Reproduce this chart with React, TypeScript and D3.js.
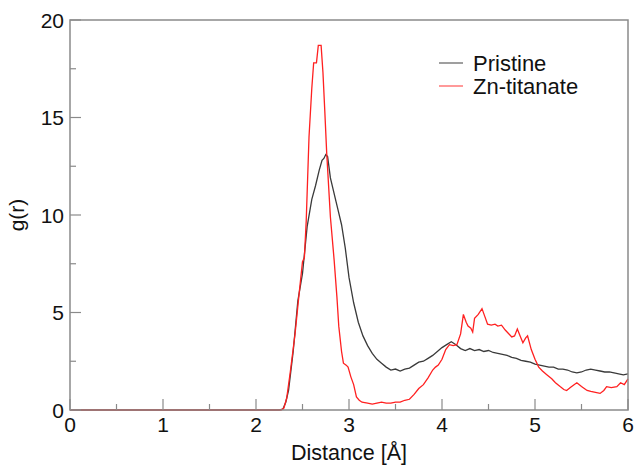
import React from "react";
import * as d3 from "d3";

const pristineR = [0, 2.25, 2.29, 2.32, 2.35, 2.4, 2.45, 2.5, 2.55, 2.6, 2.64, 2.68, 2.71, 2.73, 2.75, 2.77, 2.8, 2.83, 2.86, 2.88, 2.92, 2.96, 3.0, 3.05, 3.1, 3.15, 3.2, 3.25, 3.3, 3.35, 3.4, 3.45, 3.5, 3.55, 3.6, 3.65, 3.7, 3.75, 3.8, 3.85, 3.9, 3.95, 4.0, 4.05, 4.1, 4.15, 4.2, 4.25, 4.3, 4.35, 4.4, 4.45, 4.5, 4.55, 4.6, 4.65, 4.7, 4.75, 4.8, 4.85, 4.9, 4.95, 5.0, 5.05, 5.1, 5.15, 5.2, 5.25, 5.3, 5.35, 5.4, 5.45, 5.5, 5.55, 5.6, 5.65, 5.7, 5.75, 5.8, 5.85, 5.9, 5.95, 6.0];
const pristineG = [0, 0, 0.05, 0.4, 1.0, 3.0, 5.6, 7.0, 9.4, 10.8, 11.5, 12.3, 12.8, 12.9, 13.1, 13.0, 11.9, 11.3, 10.7, 10.3, 9.5, 8.3, 6.8, 5.5, 4.5, 3.8, 3.3, 2.9, 2.6, 2.4, 2.2, 2.05, 2.1, 2.0, 2.1, 2.15, 2.3, 2.45, 2.5, 2.65, 2.8, 3.0, 3.2, 3.35, 3.5, 3.35, 3.15, 3.05, 3.15, 3.05, 3.1, 3.0, 3.05, 2.95, 2.9, 2.85, 2.8, 2.7, 2.65, 2.55, 2.5, 2.45, 2.35, 2.3, 2.25, 2.2, 2.2, 2.1, 2.1, 2.05, 1.95, 1.9, 1.95, 2.05, 2.1, 2.05, 2.0, 1.95, 1.95, 1.9, 1.85, 1.8, 1.85];

const znR = [0, 2.27, 2.3, 2.33, 2.37, 2.42, 2.46, 2.5, 2.52, 2.54, 2.57, 2.6, 2.62, 2.65, 2.67, 2.7, 2.72, 2.74, 2.76, 2.8, 2.84, 2.87, 2.89, 2.92, 2.94, 2.97, 2.99, 3.02, 3.05, 3.08, 3.11, 3.14, 3.2, 3.25, 3.3, 3.35, 3.4, 3.45, 3.5, 3.55, 3.6, 3.65, 3.7, 3.75, 3.8, 3.85, 3.9, 3.93, 3.96, 4.0, 4.04, 4.08, 4.12, 4.16, 4.2, 4.23, 4.26, 4.28, 4.31, 4.33, 4.35, 4.39, 4.43, 4.46, 4.49, 4.53, 4.57, 4.6, 4.64, 4.68, 4.72, 4.75, 4.78, 4.81, 4.84, 4.87, 4.9, 4.92, 4.96, 5.0, 5.04, 5.08, 5.13, 5.18, 5.22, 5.27, 5.31, 5.34, 5.38, 5.42, 5.45, 5.5, 5.56, 5.6, 5.65, 5.7, 5.74, 5.77, 5.82, 5.88, 5.92, 5.96, 6.0];
const znG = [0, 0, 0.1, 0.6, 2.0, 3.9, 5.8, 7.6, 7.8, 9.7, 14.0, 16.5, 17.8, 17.8, 18.7, 18.7, 17.3, 15.3, 13.2, 9.9, 7.7, 5.8, 4.3, 3.0, 2.4, 2.3, 2.2, 1.7, 1.3, 0.67, 0.5, 0.4, 0.35, 0.3, 0.35, 0.4, 0.35, 0.35, 0.4, 0.4, 0.5, 0.55, 0.8, 1.1, 1.3, 1.65, 2.05, 2.2, 2.3, 2.6, 3.1, 3.35, 3.3, 3.35, 3.9, 4.9, 4.5, 4.3, 4.2, 4.0, 4.7, 4.9, 5.2, 4.8, 4.4, 4.35, 4.4, 4.3, 4.35, 4.1, 3.9, 3.75, 3.8, 4.15, 3.8, 3.45, 3.7, 3.8, 3.1, 2.6, 2.2, 2.0, 1.8, 1.6, 1.4, 1.2, 1.05, 1.0, 1.15, 1.3, 1.4, 1.2, 1.0, 0.95, 0.9, 0.85, 1.0, 1.2, 1.15, 1.2, 1.4, 1.3, 1.6];

const xMajor = [0, 1, 2, 3, 4, 5, 6];
const xMinor = [0.5, 1.5, 2.5, 3.5, 4.5, 5.5];
const yMajor = [0, 5, 10, 15, 20];
const yMinor = [2.5, 7.5, 12.5, 17.5];

const seriesNames = ["Pristine", "Zn-titanate"];
const seriesColors = ["#3a3a3a", "#ff2020"];

export default function App() {
  const W = 636, H = 466;
  const left = 70, right = 628, top = 20, bottom = 410;
  const x = d3.scaleLinear().domain([0, 6]).range([left, right]);
  const y = d3.scaleLinear().domain([0, 20]).range([bottom, top]);
  const line = d3.line<[number, number]>().x(d => x(d[0])).y(d => y(d[1]));
  const pPts = pristineR.map((r, i) => [r, pristineG[i]] as [number, number]);
  const zPts = znR.map((r, i) => [r, znG[i]] as [number, number]);
  const font = "'Liberation Sans', Arial, Helvetica, sans-serif";
  const frame = "#8a8a8a";
  return (
    <svg width={W} height={H} style={{ position: "absolute", left: 0, top: 0, background: "#fff" }} fontFamily={font}>
      <rect x={0} y={0} width={W} height={H} fill="#fff" />
      <path d={line(pPts) || ""} fill="none" stroke={seriesColors[0]} strokeWidth={1.3} />
      <path d={line(zPts) || ""} fill="none" stroke={seriesColors[1]} strokeWidth={1.3} />
      <rect x={left} y={top} width={right - left} height={bottom - top} fill="none" stroke={frame} strokeWidth={1.5} />
      {xMajor.map(v => (
        <g key={"xM" + v}>
          <line x1={x(v)} x2={x(v)} y1={bottom} y2={bottom - 11} stroke={frame} strokeWidth={1.2} />
          <text x={x(v)} y={bottom + 22} fontSize={21} textAnchor="middle" fill="#111">{v}</text>
        </g>
      ))}
      {xMinor.map(v => (
        <line key={"xm" + v} x1={x(v)} x2={x(v)} y1={bottom} y2={bottom - 6} stroke={frame} strokeWidth={1.2} />
      ))}
      {yMajor.map(v => (
        <g key={"yM" + v}>
          <line x1={left} x2={left + 11} y1={y(v)} y2={y(v)} stroke={frame} strokeWidth={1.2} />
          <text x={left - 6} y={y(v) + 7.5} fontSize={21} textAnchor="end" fill="#111">{v}</text>
        </g>
      ))}
      {yMinor.map(v => (
        <line key={"ym" + v} x1={left} x2={left + 6} y1={y(v)} y2={y(v)} stroke={frame} strokeWidth={1.2} />
      ))}
      <text x={(left + right) / 2} y={460} fontSize={21.5} textAnchor="middle" fill="#111">Distance [Å]</text>
      <text transform={`translate(24, ${(top + bottom) / 2}) rotate(-90)`} fontSize={21} textAnchor="middle" fill="#111">g(r)</text>
      {seriesNames.map((n, i) => (
        <g key={n}>
          <line x1={439} x2={463} y1={63 + i * 23} y2={63 + i * 23} stroke={seriesColors[i]} strokeWidth={1.3} opacity={i === 0 ? 0.75 : 0.7} />
          <text x={473} y={71 + i * 22.5} fontSize={22} fill="#111">{n}</text>
        </g>
      ))}
    </svg>
  );
}
